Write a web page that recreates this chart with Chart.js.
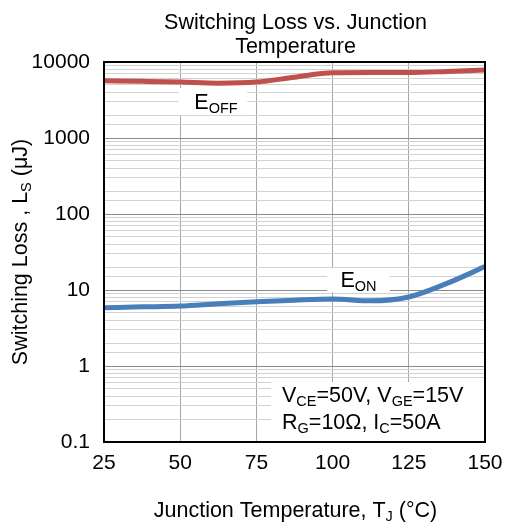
<!DOCTYPE html>
<html><head><meta charset="utf-8">
<script src="https://cdn.jsdelivr.net/npm/chart.js@4"></script>
<style>html,body{margin:0;padding:0;background:#fff}#wrap{width:505px;height:523px}</style>
</head><body><div id="wrap"><canvas id="c" width="505" height="523"></canvas></div>
<script>
const temperatures = [25, 37.5, 50, 62.5, 75, 87.5, 100, 112.5, 125, 137.5, 150];
const eoffValues   = [5670, 5570, 5450, 5270, 5450, 6300, 7200, 7250, 7250, 7500, 7850];
const eonValues    = [5.85, 6.0, 6.15, 6.6, 7.0, 7.35, 7.6, 7.2, 8.1, 12.2, 20.3];
const xTickValues  = [25, 50, 75, 100, 125, 150];
const yTickLabels  = [0.1, 1, 10, 100, 1000, 10000];
const chartTitle   = ['Switching Loss vs. Junction', 'Temperature'];
const xTitleParts  = [['Junction Temperature, T', 0], ['J', 1], [' (°C)', 0]];
const yTitleParts  = [['Switching Loss , L', 0], ['S', 1], [' (μJ)', 0]];
const eoffLabel    = [['E', 0], ['OFF', 1]];
const eonLabel     = [['E', 0], ['ON', 1]];
const condLine1    = [['V', 0], ['CE', 1], ['=50V, V', 0], ['GE', 1], ['=15V', 0]];
const condLine2    = [['R', 0], ['G', 1], ['=10Ω, I', 0], ['C', 1], ['=50A', 0]];

const FONT = 'Arial, "Liberation Sans", sans-serif';
const MAIN = 21.5, SUB = 14.5;

function isDecade(v) {
  const l = Math.log10(v);
  return Math.abs(l - Math.round(l)) < 1e-6;
}
function richWidth(ctx, parts) {
  let w = 0;
  parts.forEach(p => { ctx.font = (p[1] ? SUB : MAIN) + 'px ' + FONT; w += ctx.measureText(p[0]).width; });
  return w;
}
function drawRich(ctx, parts, x, y, align) {
  const total = richWidth(ctx, parts);
  let cx = align === 'center' ? x - total / 2 : (align === 'right' ? x - total : x);
  ctx.textAlign = 'left';
  ctx.textBaseline = 'alphabetic';
  ctx.fillStyle = '#000';
  parts.forEach(p => {
    ctx.font = (p[1] ? SUB : MAIN) + 'px ' + FONT;
    ctx.fillText(p[0], cx, y + (p[1] ? 4 : 0));
    cx += ctx.measureText(p[0]).width;
  });
}

const decor = {
  id: 'decor',
  beforeDatasetsDraw(chart) {
    const ctx = chart.ctx, xs = chart.scales.x, ys = chart.scales.y, a = chart.chartArea;
    ctx.save();
    ctx.fillStyle = '#fff';
    // EOFF label box
    let l = xs.getPixelForValue(49.5), r = xs.getPixelForValue(72);
    let t = ys.getPixelForValue(4550), b = ys.getPixelForValue(2000);
    ctx.fillRect(l, t, r - l, b - t);
    drawRich(ctx, eoffLabel, (l + r) / 2 + 3, b - 6, 'center');
    // EON label box
    ctx.fillStyle = '#fff';
    l = xs.getPixelForValue(98.2); r = xs.getPixelForValue(118.8);
    t = ys.getPixelForValue(19.4); b = ys.getPixelForValue(9.4);
    ctx.fillRect(l, t, r - l, b - t);
    drawRich(ctx, eonLabel, (l + r) / 2, b - 5, 'center');
    // Conditions box
    ctx.fillStyle = '#fff';
    l = xs.getPixelForValue(79.8);
    t = ys.getPixelForValue(0.616);
    ctx.fillRect(l, t, a.right - l, a.bottom - t);
    drawRich(ctx, condLine1, l + 11, t + 20, 'left');
    drawRich(ctx, condLine2, l + 11, t + 47, 'left');
    ctx.restore();
  },
  afterDraw(chart) {
    const ctx = chart.ctx, a = chart.chartArea;
    ctx.save();
    ctx.strokeStyle = '#000';
    ctx.lineWidth = 2;
    ctx.strokeRect(a.left, a.top, a.right - a.left, a.bottom - a.top);
    // chart title
    ctx.fillStyle = '#000';
    ctx.font = MAIN + 'px ' + FONT;
    ctx.textAlign = 'center';
    ctx.textBaseline = 'alphabetic';
    const cx = (a.left + a.right) / 2 + 1;
    ctx.fillText(chartTitle[0], cx, 29);
    ctx.fillText(chartTitle[1], cx, 53);
    // x axis title
    drawRich(ctx, xTitleParts, cx, 517, 'center');
    // y axis title
    ctx.translate(27, (a.top + a.bottom) / 2);
    ctx.rotate(-Math.PI / 2);
    drawRich(ctx, yTitleParts, 0, 0, 'center');
    ctx.restore();
  }
};

new Chart(document.getElementById('c'), {
  type: 'line',
  data: {
    datasets: [
      {
        label: 'EOFF',
        data: temperatures.map((t, i) => ({ x: t, y: eoffValues[i] })),
        borderColor: '#C0504D',
        borderWidth: 5,
        pointRadius: 0,
        cubicInterpolationMode: 'monotone',
        fill: false
      },
      {
        label: 'EON',
        data: temperatures.map((t, i) => ({ x: t, y: eonValues[i] })),
        borderColor: '#4A7EBB',
        borderWidth: 5,
        pointRadius: 0,
        cubicInterpolationMode: 'monotone',
        fill: false
      }
    ]
  },
  options: {
    responsive: false,
    animation: false,
    devicePixelRatio: 1,
    layout: { padding: { top: 62, right: 20, left: 0, bottom: 0 } },
    plugins: { legend: { display: false }, title: { display: false }, tooltip: { enabled: false } },
    scales: {
      x: {
        type: 'linear',
        min: 25, max: 150,
        afterBuildTicks: s => { s.ticks = xTickValues.map(v => ({ value: v })); },
        afterFit: s => { s.height = 81; s.paddingLeft = 0; s.paddingRight = 0; s.paddingTop = 0; s.paddingBottom = 0; },
        grid: { color: '#a6a6a6', lineWidth: 1, drawTicks: false },
        border: { display: false },
        ticks: { color: '#000', font: { family: FONT, size: 21 }, padding: 9, maxRotation: 0, autoSkip: false }
      },
      y: {
        type: 'logarithmic',
        min: 0.1, max: 10000,
        afterFit: s => { s.width = 104; s.paddingLeft = 0; s.paddingRight = 0; s.paddingTop = 0; s.paddingBottom = 0; },
        grid: {
          drawTicks: false,
          lineWidth: 1,
          color: c => (c.tick && isDecade(c.tick.value)) ? '#8a8a8a' : '#d2d2d2'
        },
        border: { display: false },
        ticks: {
          color: '#000',
          font: { family: FONT, size: 21 },
          padding: 14,
          autoSkip: false,
          callback: v => {
            const m = yTickLabels.find(t => Math.abs(Math.log10(t) - Math.log10(v)) < 1e-6);
            return m !== undefined ? String(m) : '';
          }
        }
      }
    }
  },
  plugins: [decor]
});
</script>
</body></html>
